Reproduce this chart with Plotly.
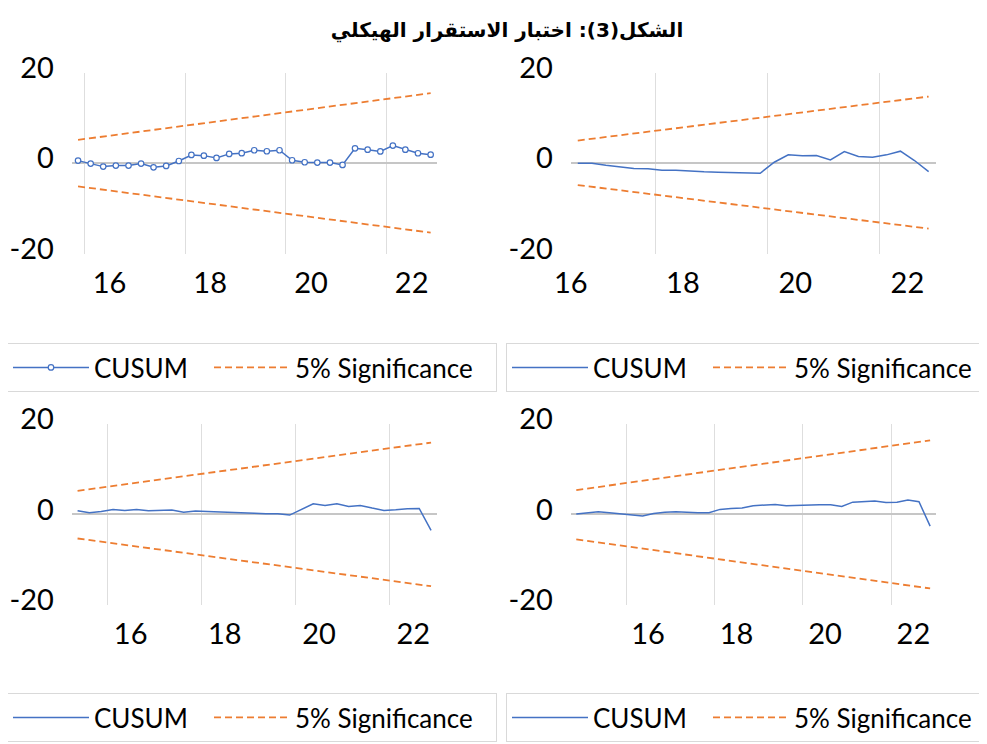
import plotly.graph_objects as go
import pandas as pd

TITLE = "الشكل(3): اختبار الاستقرار الهيكلي"

# ---- data (quarterly) ----
p1_start, p1_end = "2015Q4", "2022Q4"
p1_cusum = [0.58, -0.08, -0.74, -0.52, -0.52, -0.08, -0.89, -0.6, 0.5, 1.83,
            1.68, 1.17, 2.06, 2.21, 2.87, 2.65, 2.87, 0.66, 0.22, 0.15,
            0.15, -0.37, 3.3, 3.0, 2.6, 3.9, 3.0, 2.2, 1.9]
p1_upper = [5.15, 15.45]
p1_lower = [-5.1, -15.3]

p2_start, p2_end = "2016Q3", "2022Q4"
p2_cusum = [0.0, 0.0, -0.44, -0.73, -1.17, -1.2, -1.54, -1.55, -1.76, -1.9,
            -1.98, -2.05, -2.1, -2.2, 0.22, 1.85, 1.63, 1.7, 0.74, 2.58,
            1.48, 1.33, 1.85, 2.66, 0.6, -1.83]
p2_upper = [5.0, 14.7]
p2_lower = [-4.8, -14.4]

p3_start, p3_end = "2015Q2", "2022Q4"
p3_cusum = [0.8, 0.35, 0.66, 1.1, 0.88, 1.1, 0.8, 0.8, 0.95, 0.5,
            0.73, 0.66, 0.58, 0.5, 0.5, 0.28, 0.14, 0.14, -0.15, 1.1,
            2.33, 1.98, 2.33, 1.76, 1.98, 1.39, 0.88, 1.0, 1.24, 1.3, -3.5]
p3_upper = [5.2, 15.8]
p3_lower = [-5.3, -15.8]

p4_start, p4_end = "2014Q4", "2022Q4"
p4_cusum = [0.07, 0.3, 0.58, 0.36, 0.07, -0.22, -0.37, 0.22, 0.5, 0.58,
            0.4, 0.36, 0.36, 1.1, 1.3, 1.39, 1.9, 2.1, 2.2, 1.9,
            2.0, 2.1, 2.1, 2.1, 1.76, 2.7, 2.75, 2.93, 2.64, 2.7,
            3.15, 2.78, -2.58]
p4_upper = [5.35, 16.3]
p4_lower = [-5.5, -16.3]

tick_years = [2016, 2018, 2020, 2022]
tick_labels = ["16", "18", "20", "22"]
y_ticks = [-20, 0, 20]
y_tick_labels = ["-20", "0", "20"]

BLUE = "#4472C4"
ORANGE = "#ED7D31"
FONT = "Lato"


def quarter_axis(start, end):
    per = pd.period_range(start, end, freq="Q")
    mids = per.start_time + (per.end_time - per.start_time) / 2
    xs = [d.strftime("%Y-%m-%d %H:%M") for d in mids]
    rng = [per[0].start_time.strftime("%Y-%m-%d"),
           (per[-1].end_time + pd.Timedelta(seconds=1)).strftime("%Y-%m-%d")]
    return xs, rng


panels = [
    (p1_start, p1_end, p1_cusum, p1_upper, p1_lower, True),
    (p2_start, p2_end, p2_cusum, p2_upper, p2_lower, False),
    (p3_start, p3_end, p3_cusum, p3_upper, p3_lower, False),
    (p4_start, p4_end, p4_cusum, p4_upper, p4_lower, False),
]

W, H = 987, 744
OFF = 8  # page body margin of the html page


def px(x):
    return (x - OFF) / W


def py(y):
    return 1 - (y - OFF) / H


x_domains = [[px(71.7), px(437)], [px(570.7), px(935.7)],
             [px(71.7), px(437)], [px(570.7), px(935.7)]]
y_domains = [[py(254), py(72.5)], [py(254), py(72.5)],
             [py(605.3), py(423.5)], [py(605.3), py(423.5)]]
legend_pos = [(px(7), py(343)), (px(506), py(343)),
              (px(7), py(693)), (px(506), py(693))]

fig = go.Figure()
layout = dict(
    width=W, height=H, autosize=False,
    margin=dict(l=0, r=0, t=0, b=0, autoexpand=False),
    paper_bgcolor="white", plot_bgcolor="white",
    title=dict(text=TITLE, x=px(507), y=py(30), xanchor="center", yanchor="middle",
               xref="paper", yref="paper", automargin=False,
               font=dict(family="DejaVu Sans", size=20, color="black", weight="bold")),
    showlegend=True,
)

for i, (s, e, cusum, up, lo, markers) in enumerate(panels):
    n = i + 1
    sfx = "" if n == 1 else str(n)
    xs, rng = quarter_axis(s, e)
    leg = "legend" if n == 1 else f"legend{n}"
    xa, ya = f"x{sfx}", f"y{sfx}"

    fig.add_trace(go.Scatter(
        x=xs, y=cusum, name="CUSUM", xaxis=xa, yaxis=ya, legend=leg,
        legendwidth=110,
        mode="lines+markers" if markers else "lines",
        line=dict(color=BLUE, width=1.5),
        marker=dict(symbol="circle", size=5.5, color="white",
                    line=dict(color=BLUE, width=1.2)),
    ))
    fig.add_trace(go.Scatter(
        x=[xs[0], xs[-1]], y=up, name="5% Significance", xaxis=xa, yaxis=ya,
        legend=leg, legendwidth=196, mode="lines",
        line=dict(color=ORANGE, width=1.8, dash="7px,4px"),
    ))
    fig.add_trace(go.Scatter(
        x=[xs[0], xs[-1]], y=lo, name="5% Significance", xaxis=xa, yaxis=ya,
        legend=leg, mode="lines", showlegend=False,
        line=dict(color=ORANGE, width=1.8, dash="7px,4px"),
    ))

    layout[f"xaxis{sfx}"] = dict(
        domain=x_domains[i], anchor=ya, type="date", range=rng,
        automargin=False,
        tickmode="array",
        tickvals=[f"{y}-07-01" for y in tick_years], ticktext=tick_labels,
        showgrid=False, zeroline=False, showline=False,
        ticks="outside", ticklen=3, tickcolor="rgba(0,0,0,0)",
        tickfont=dict(family=FONT, size=29, color="black"),
        minor=dict(tickmode="array", tickvals=[f"{y}-01-01" for y in tick_years],
                   showgrid=True, gridcolor="#dedede", gridwidth=1, ticks=""),
    )
    layout[f"yaxis{sfx}"] = dict(
        domain=y_domains[i], anchor=xa, range=[-20, 20],
        automargin=False,
        tickmode="array", tickvals=y_ticks, ticktext=y_tick_labels,
        showgrid=False, showline=False,
        zeroline=True, zerolinecolor="#c6c6c6", zerolinewidth=1.6,
        ticks="outside", ticklen=11, tickcolor="rgba(0,0,0,0)",
        ticklabelshift=-5,
        tickfont=dict(family=FONT, size=29, color="black"),
    )
    lx, ly = legend_pos[i]
    layout[leg] = dict(
        x=lx, y=ly, xanchor="left", yanchor="top", orientation="h",
        bordercolor="#d9d9d9", borderwidth=1, bgcolor="white",
        font=dict(family=FONT, size=26, color="black"),
        itemwidth=76,
    )

fig.update_layout(**layout)
fig.write_html("out.html")
